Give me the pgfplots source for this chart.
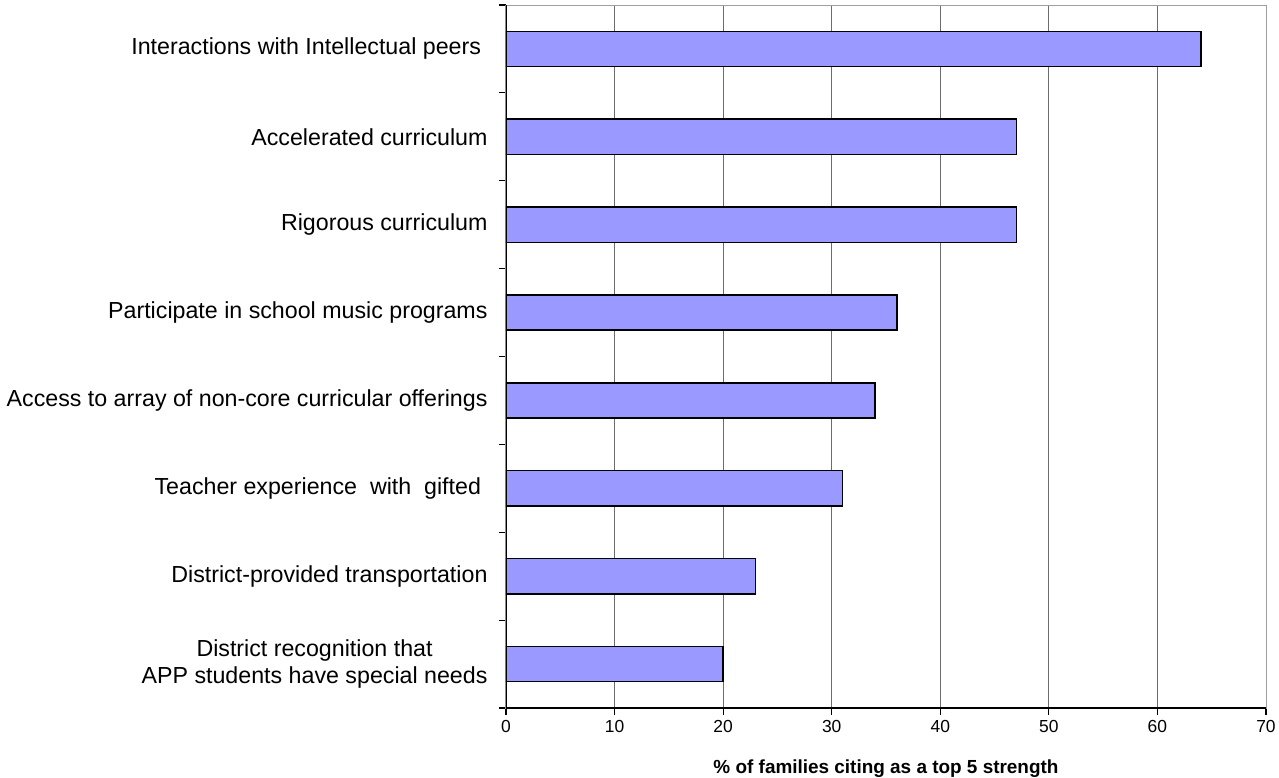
\documentclass[border=0pt]{standalone}
\usepackage{pgfplots}
\pgfplotsset{compat=1.18}
\usepackage{fontspec}
\setmainfont{Liberation Sans}
\definecolor{barblue}{HTML}{9999FF}
\begin{document}
\begin{tikzpicture}
\begin{axis}[
  scale only axis, width=760bp, height=703bp,
  xbar, bar width=0.4,
  xmin=0, xmax=70, ymin=-0.5, ymax=7.5,
  xtick={0,10,...,70},
  ytick={0,...,7},
  minor ytick={-0.5,0.5,...,7.5},
  yticklabels={{District recognition that\\APP students have special needs},
               {District-provided transportation},
               {Teacher experience\ \ with\ \ gifted\ },
               {Access to array of non-core curricular offerings},
               {Participate in school music programs},
               {Rigorous curriculum},
               {Accelerated curriculum},
               {Interactions with Intellectual peers\ }},
  yticklabel style={align=center, font=\fontsize{23.3}{27}\selectfont, xshift=-8bp},
  xticklabel style={font=\fontsize{17.5}{20}\selectfont, yshift=-2bp},
  /pgf/number format/assume math mode=true,
  tick pos=left, tick align=outside,
  major tick length=7bp, minor tick length=7bp,
  every tick/.style={black, line width=1bp},
  major y tick style={draw=none},
  minor y tick style={draw=black, line width=1.2bp},
  major x tick style={draw=black, line width=1.2bp},
  xmajorgrids=true,
  major grid style={gray!85!black, line width=0.9bp},
  axis line style={draw=gray!75, line width=1bp},
  xlabel={\% of families citing as a top 5 strength},
  every axis x label/.style={at={(axis description cs:0.5,0)}, anchor=center, yshift=-61bp, font=\fontsize{19}{22}\selectfont\bfseries},
]
\addplot[fill=barblue, draw=black, line width=1.5bp] coordinates {
  (20,0) (23,1) (31,2) (34,3) (36,4) (47,5) (47,6) (64,7)};
\draw[black, line width=1.3bp] (rel axis cs:0,0) -- (rel axis cs:1,0);
\draw[black, line width=1.3bp] (rel axis cs:0,0) -- (rel axis cs:0,1);
\end{axis}
\pgfresetboundingbox
\path (current axis.south west) ++(-506bp,-70bp) rectangle ++(1279bp,778bp);
\end{tikzpicture}
\end{document}
